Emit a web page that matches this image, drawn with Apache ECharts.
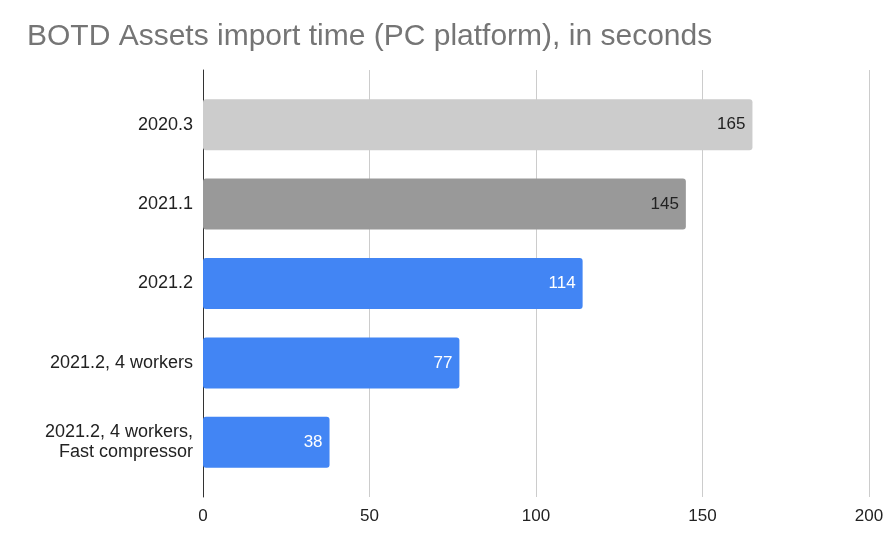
<!DOCTYPE html>
<html>
<head>
    <meta charset="utf-8">
    <script src="https://cdn.jsdelivr.net/npm/echarts@6/dist/echarts.min.js"></script>
    <style>
        html, body { margin: 0; padding: 0; background: #fff; }
        #main { width: 890px; height: 539px; }
    </style>
</head>
<body>
<div id="main"></div>
<script type="text/javascript">
    // data
    var categories = ['2020.3', '2021.1', '2021.2', '2021.2, 4 workers', '2021.2, 4 workers,\nFast compressor'];
    var importSeconds = [165, 145, 114, 77, 38];
    var barColors = ['#cccccc', '#999999', '#4285f4', '#4285f4', '#4285f4'];
    var labelColors = ['#222222', '#222222', '#ffffff', '#ffffff', '#ffffff'];
    var xTicks = [0, 50, 100, 150, 200];

    var myChart = echarts.init(document.getElementById('main'));

    var barData = importSeconds.map(function (v, i) {
        return {
            value: v,
            itemStyle: { color: barColors[i] },
            label: { color: labelColors[i] }
        };
    });

    var font = 'Arial, "Liberation Sans", sans-serif';

    myChart.setOption({
        animation: false,
        title: {
            text: 'BOTD Assets import time (PC platform), in seconds',
            left: 22,
            top: 17,
            textStyle: { color: '#757575', fontSize: 30, fontWeight: 'normal', fontFamily: font }
        },
        grid: [
            // outer grid: gridlines, x labels, y axis line
            { left: 203, right: 21, top: 70, bottom: 42 },
            // inner grid: bars and category labels
            { left: 203, right: 21, top: 85, bottom: 57 }
        ],
        xAxis: [{
            gridIndex: 0,
            type: 'value',
            min: xTicks[0],
            max: xTicks[xTicks.length - 1],
            interval: 50,
            axisLine: { show: false },
            axisTick: { show: false },
            axisLabel: { color: '#222', fontSize: 17, fontFamily: font, margin: 11 },
            splitLine: { lineStyle: { color: '#cccccc', width: 1 } }
        }, {
            gridIndex: 1,
            type: 'value',
            min: xTicks[0],
            max: xTicks[xTicks.length - 1],
            show: false
        }],
        yAxis: [{
            gridIndex: 0,
            type: 'value',
            axisLine: { show: true, lineStyle: { color: '#333', width: 1 } },
            axisTick: { show: false },
            axisLabel: { show: false },
            splitLine: { show: false }
        }, {
            gridIndex: 1,
            type: 'category',
            inverse: true,
            data: categories,
            axisLine: { show: false },
            axisTick: { show: false },
            axisLabel: {
                color: '#222', fontSize: 18, fontFamily: font, margin: 10,
                align: 'right', lineHeight: 20
            }
        }],
        series: [{
            type: 'bar',
            xAxisIndex: 1,
            yAxisIndex: 1,
            data: barData,
            barWidth: 51,
            itemStyle: { borderRadius: 3 },
            label: {
                show: true,
                position: 'insideRight',
                distance: 7,
                fontSize: 17,
                fontFamily: font
            }
        }]
    });
</script>
</body>
</html>
